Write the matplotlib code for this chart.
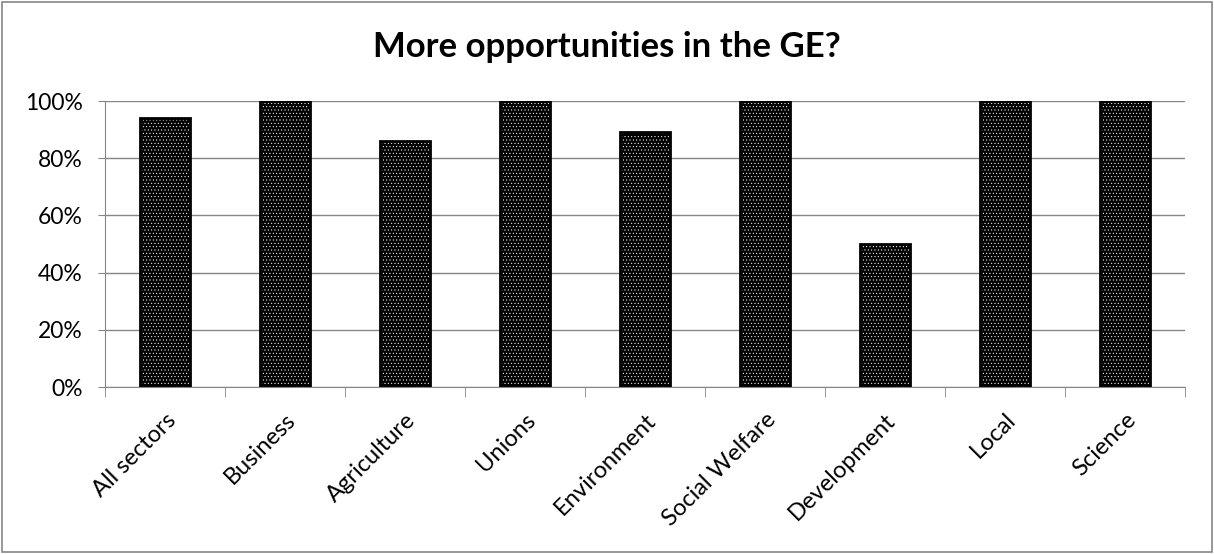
import matplotlib
matplotlib.use("Agg")
import matplotlib.pyplot as plt
import numpy as np
from matplotlib.ticker import PercentFormatter

categories = ["All sectors", "Business", "Agriculture", "Unions", "Environment",
              "Social Welfare", "Development", "Local", "Science"]
values = [0.94, 1.00, 0.86, 1.00, 0.89, 1.00, 0.50, 1.00, 1.00]
yticks = [0, 0.2, 0.4, 0.6, 0.8, 1.0]

plt.rcParams['font.family'] = ['Lato', 'DejaVu Sans']
plt.rcParams['hatch.linewidth'] = 0.35

fig = plt.figure(figsize=(12.14, 5.54), dpi=100)
ax = fig.add_axes([105/1214, 1-387/554, (1185-105)/1214, (387-101)/554])

x = np.arange(len(categories))
ax.bar(x, values, width=0.42, color='black', edgecolor='white', hatch='.....', linewidth=0, zorder=3)
ax.bar(x, values, width=0.42, fill=False, edgecolor='black', linewidth=2, zorder=4)

ax.set_xlim(-0.5, len(categories)-0.5)
ax.set_ylim(0, 1.0)
ax.set_yticks(yticks)
ax.yaxis.set_major_formatter(PercentFormatter(1.0, decimals=0))
ax.set_xticks(x)
ax.set_xticklabels(categories, rotation=45, ha='right', rotation_mode='anchor', fontsize=17)
ax.tick_params(axis='x', length=0, pad=16)
ax.set_xticks(np.arange(-0.5, len(categories)), minor=True)
ax.tick_params(axis='x', which='minor', length=7, color='#868686', direction='out')
ax.tick_params(axis='y', labelsize=16.5, length=5, color='#868686', pad=11)

ax.grid(axis='y', color='#868686', linewidth=1, zorder=0)
for s in ['top', 'right']:
    ax.spines[s].set_visible(False)
for s in ['left', 'bottom']:
    ax.spines[s].set_color('#868686')

fig.text(0.5, 1-47/554, "More opportunities in the GE?", ha='center', va='center',
         fontsize=25, fontweight='bold')

border = plt.Rectangle((0.002, 0.003), 0.996, 0.994, transform=fig.transFigure,
                       fill=False, edgecolor='#868686', linewidth=1.2)
fig.patches.append(border)

fig.savefig("out.png", dpi=100)
